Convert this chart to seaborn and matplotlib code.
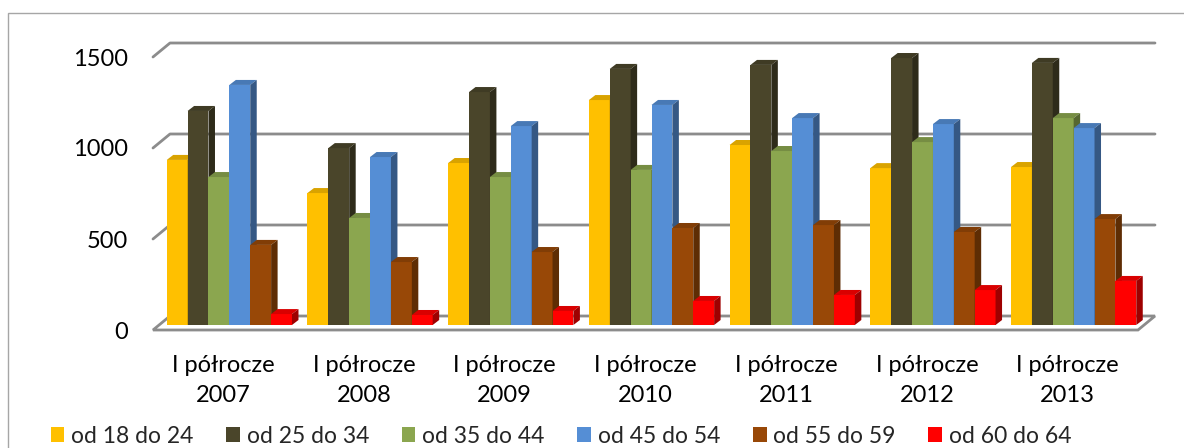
import numpy as np
import pandas as pd
import matplotlib
matplotlib.use("Agg")
import matplotlib.pyplot as plt
import seaborn as sns
from matplotlib.patches import Polygon, Rectangle, Patch
from matplotlib.lines import Line2D
from matplotlib.transforms import ScaledTranslation, IdentityTransform

# ---------------- data ----------------
periods = ["I półrocze\n2007", "I półrocze\n2008", "I półrocze\n2009", "I półrocze\n2010",
           "I półrocze\n2011", "I półrocze\n2012", "I półrocze\n2013"]
groups = ["od 18 do 24", "od 25 do 34", "od 35 do 44", "od 45 do 54", "od 55 do 59", "od 60 do 64"]
v18_24 = [907, 725, 890, 1236, 989, 862, 868]
v25_34 = [1176, 972, 1280, 1407, 1429, 1467, 1440]
v35_44 = [813, 588, 813, 852, 956, 1005, 1137]
v45_54 = [1319, 923, 1093, 1209, 1137, 1104, 1082]
v55_59 = [440, 346, 401, 533, 549, 511, 582]
v60_64 = [60, 55, 77, 132, 165, 192, 242]
yticks = [0, 500, 1000, 1500]

colors = ["#FFC000", "#4A452A", "#8BA64F", "#558ED5", "#984807", "#FF0000"]

series = [v18_24, v25_34, v35_44, v45_54, v55_59, v60_64]
df = pd.DataFrame({
    "period": [p for s in series for p in periods],
    "group": [g for g, s in zip(groups, series) for _ in s],
    "value": [v for s in series for v in s],
})

sns.set_theme(style="white")
plt.rcParams["font.family"] = ["Lato", "DejaVu Sans"]

W, H = 1184, 448
fig = plt.figure(figsize=(W / 100, H / 100), dpi=100)
ax = fig.add_axes([153 / W, 118 / H, 985 / W, 273 / H])

sns.barplot(data=df, x="period", y="value", hue="group", order=periods, hue_order=groups,
            palette=colors, width=0.89, gap=0, saturation=1, linewidth=0, ax=ax,
            legend=False, errorbar=None)
ax.set_xlim(-0.5, 6.5)
ax.set_ylim(0, 1500)
ax.set_yticks(yticks)
ax.set_yticklabels([str(t) for t in yticks])
ax.set_xlabel("")
ax.set_ylabel("")
for s in ax.spines.values():
    s.set_visible(False)
ax.tick_params(axis="both", length=0, labelsize=17, colors="black")
ax.tick_params(axis="y", pad=18)
ax.tick_params(axis="x", pad=18)
for lbl in ax.get_xticklabels():
    lbl.set_linespacing(1.5)
ax.grid(False)

grid_c = "#8c8c8c"
back = np.array([17.0, 14.0])    # back wall offset in px
front = np.array([6.0, 5.0])     # bar front offset
depth = np.array([6.5, 5.0])     # bar depth
ident = IdentityTransform()

# floor
fl = ax.transData.transform([(-0.5, 0), (6.5, 0)])
floor = Polygon([fl[0], fl[1], fl[1] + back, fl[0] + back], closed=True, transform=ident,
                facecolor="white", edgecolor=grid_c, lw=2, zorder=1, clip_on=False)
ax.add_patch(floor)
# back-wall gridlines
for v in yticks[1:]:
    p = ax.transData.transform([(-0.5, v), (6.5, v)])
    pts = np.array([p[0], p[0] + back, p[1] + back])
    ax.add_line(Line2D(pts[:, 0], pts[:, 1], transform=ident, color=grid_c, lw=2,
                       zorder=1, clip_on=False))

# 3D faces
def shade(c, f):
    r, g, b = matplotlib.colors.to_rgb(c)
    return (r * f, g * f, b * f)

bars = []
for cont, col in zip(ax.containers, colors):
    for p in cont.patches:
        bars.append((p.get_x(), p, col))
bars.sort(key=lambda t: t[0])
off = ScaledTranslation(front[0] / 100, front[1] / 100, fig.dpi_scale_trans)
z = 3.0
for x0, p, col in bars:
    w = p.get_width()
    h = p.get_height()
    p.set_transform(ax.transData + off)
    p.set_zorder(z)
    p.set_clip_on(False)
    pts = ax.transData.transform([(x0, h), (x0 + w, h), (x0 + w, 0)]) + front
    top = Polygon([pts[0], pts[1], pts[1] + depth, pts[0] + depth], closed=True,
                  transform=ident, facecolor=shade(col, 0.85), lw=0, zorder=z + 0.001,
                  clip_on=False)
    side = Polygon([pts[1], pts[2], pts[2] + depth, pts[1] + depth], closed=True,
                   transform=ident, facecolor=shade(col, 0.62), lw=0, zorder=z + 0.002,
                   clip_on=False)
    ax.add_patch(side)
    ax.add_patch(top)
    z += 0.01

# legend
handles = [Patch(facecolor=c, edgecolor="none") for c in colors]
fig.legend(handles, groups, loc="center", bbox_to_anchor=(561 / W, 12 / H), ncol=6,
           frameon=False, fontsize=16.5, handlelength=0.6, handleheight=0.6,
           handletextpad=0.3, columnspacing=1.42, borderpad=0)

# outer border
fig.add_artist(Rectangle((8 / W, -0.1), 1.2, (H - 13) / H + 0.1, transform=fig.transFigure,
                         fill=False, edgecolor="#a6a6a6", lw=1))

fig.savefig("out.png", dpi=100)
